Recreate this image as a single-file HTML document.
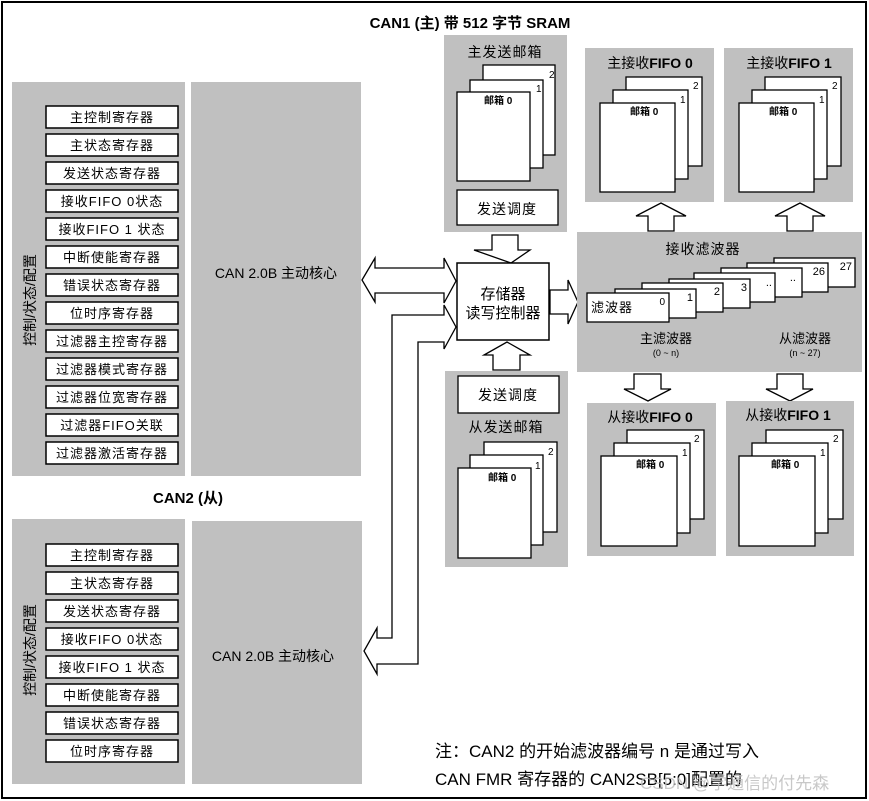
<!DOCTYPE html>
<html><head><meta charset="utf-8"><style>
html,body{margin:0;padding:0;background:#fff}
svg{display:block}
text{font-family:"Liberation Sans","Noto Sans CJK SC",sans-serif;fill:#000}
</style></head><body>
<svg width="869" height="801" viewBox="0 0 869 801" xmlns="http://www.w3.org/2000/svg">
<rect x="2" y="2" width="864" height="796" fill="#fff" stroke="#000" stroke-width="2"/>
<text x="470" y="28" font-size="15" font-weight="bold" text-anchor="middle">CAN1 (主) 带 512 字节 SRAM</text>

<!-- CAN1 left -->
<rect x="12" y="82" width="173" height="394" fill="#c0c0c0"/>
<rect x="191" y="82" width="170" height="394" fill="#c0c0c0"/>
<text transform="translate(35,300) rotate(-90)" font-size="14" text-anchor="middle">控制/状态/配置</text>
<text x="276" y="278" font-size="14" text-anchor="middle">CAN 2.0B  主动核心</text>
<g font-size="13" text-anchor="middle" letter-spacing="1">
<g fill="#fff" stroke="#000" stroke-width="1.5">
<rect x="46" y="106" width="132" height="22"/><rect x="46" y="134" width="132" height="22"/><rect x="46" y="162" width="132" height="22"/><rect x="46" y="190" width="132" height="22"/><rect x="46" y="218" width="132" height="22"/><rect x="46" y="246" width="132" height="22"/><rect x="46" y="274" width="132" height="22"/><rect x="46" y="302" width="132" height="22"/><rect x="46" y="330" width="132" height="22"/><rect x="46" y="358" width="132" height="22"/><rect x="46" y="386" width="132" height="22"/><rect x="46" y="414" width="132" height="22"/><rect x="46" y="442" width="132" height="22"/>
</g>
<text x="112" y="122">主控制寄存器</text><text x="112" y="150">主状态寄存器</text><text x="112" y="178">发送状态寄存器</text><text x="112" y="206">接收FIFO 0状态</text><text x="112" y="234">接收FIFO 1 状态</text><text x="112" y="262">中断使能寄存器</text><text x="112" y="290">错误状态寄存器</text><text x="112" y="318">位时序寄存器</text><text x="112" y="346">过滤器主控寄存器</text><text x="112" y="374">过滤器模式寄存器</text><text x="112" y="402">过滤器位宽寄存器</text><text x="112" y="430">过滤器FIFO关联</text><text x="112" y="458">过滤器激活寄存器</text>
</g>

<text x="188" y="503" font-size="15" font-weight="bold" text-anchor="middle">CAN2 (从)</text>
<rect x="12" y="519" width="173" height="265" fill="#c0c0c0"/>
<rect x="192" y="521" width="170" height="263" fill="#c0c0c0"/>
<text transform="translate(35,650) rotate(-90)" font-size="14" text-anchor="middle">控制/状态/配置</text>
<text x="273" y="661" font-size="14" text-anchor="middle">CAN 2.0B  主动核心</text>
<g font-size="13" text-anchor="middle" letter-spacing="1">
<g fill="#fff" stroke="#000" stroke-width="1.5">
<rect x="46" y="544" width="132" height="22"/><rect x="46" y="572" width="132" height="22"/><rect x="46" y="600" width="132" height="22"/><rect x="46" y="628" width="132" height="22"/><rect x="46" y="656" width="132" height="22"/><rect x="46" y="684" width="132" height="22"/><rect x="46" y="712" width="132" height="22"/><rect x="46" y="740" width="132" height="22"/>
</g>
<text x="112" y="560">主控制寄存器</text><text x="112" y="588">主状态寄存器</text><text x="112" y="616">发送状态寄存器</text><text x="112" y="644">接收FIFO 0状态</text><text x="112" y="672">接收FIFO 1 状态</text><text x="112" y="700">中断使能寄存器</text><text x="112" y="728">错误状态寄存器</text><text x="112" y="756">位时序寄存器</text>
</g>

<!-- connectors -->
<g fill="#fff" stroke="#000" stroke-width="1.3">
<path d="M362,280 L375,258 L375,268 L444,268 L444,258 L456,281 L444,303 L444,293 L375,293 L375,302 Z"/>
<path d="M392,638 L392,315 L444,315 L444,305 L456,327 L444,349 L444,342 L418,342 L418,664 L377,664 L377,674 L364,651 L377,628 L377,638 Z"/>
<path d="M492,235 L518,235 L518,250 L530,250 L511,263 L474,250 L492,250 Z"/>
<path d="M493,370 L520,370 L520,355 L530,355 L507,342 L484,355 L493,355 Z"/>
<path d="M550,290 L568,290 L568,280 L578,302 L568,324 L568,314 L550,314 Z"/>
<path d="M648,231 L674,231 L674,216 L686,216 L661,203 L636,216 L648,216 Z"/>
<path d="M787,231 L813,231 L813,216 L825,216 L800,203 L775,216 L787,216 Z"/>
<path d="M634,374 L661,374 L661,389 L671,389 L648,401 L624,389 L634,389 Z"/>
<path d="M777,374 L803,374 L803,389 L813,389 L790,401 L766,389 L777,389 Z"/>
</g>

<!-- memory controller -->
<rect x="457" y="263" width="92" height="77" fill="#fff" stroke="#000" stroke-width="1.5"/>
<text x="503" y="299" font-size="15" text-anchor="middle">存储器</text>
<text x="503" y="318" font-size="15" text-anchor="middle">读写控制器</text>

<!-- main TX mailbox -->
<rect x="444" y="35" width="123" height="197" fill="#c0c0c0"/>
<text x="505" y="57" font-size="14" text-anchor="middle" letter-spacing="1">主发送邮箱</text>
<g fill="#fff" stroke="#000" stroke-width="1.3">
<rect x="483" y="65" width="72" height="90"/><rect x="470" y="80" width="73" height="88"/><rect x="457" y="92" width="73" height="89"/>
</g>
<g font-size="10"><text x="549" y="78">2</text><text x="536" y="92">1</text><text x="484" y="104" font-weight="bold">邮箱 0</text></g>
<rect x="457" y="190" width="101" height="35" fill="#fff" stroke="#000" stroke-width="1.3"/>
<text x="507" y="214" font-size="14" text-anchor="middle" letter-spacing="1">发送调度</text>

<!-- main RX FIFOs -->
<rect x="585" y="48" width="129" height="154" fill="#c0c0c0"/>
<text x="650" y="68" font-size="14" text-anchor="middle">主接收<tspan font-weight="bold">FIFO 0</tspan></text>
<g fill="#fff" stroke="#000" stroke-width="1.3"><rect x="626" y="77" width="76" height="89"/><rect x="613" y="90" width="75" height="89"/><rect x="600" y="103" width="75" height="89"/></g>
<g font-size="10"><text x="693" y="89">2</text><text x="680" y="103">1</text><text x="630" y="115" font-weight="bold">邮箱 0</text></g>
<rect x="724" y="48" width="129" height="154" fill="#c0c0c0"/>
<text x="789" y="68" font-size="14" text-anchor="middle">主接收<tspan font-weight="bold">FIFO 1</tspan></text>
<g fill="#fff" stroke="#000" stroke-width="1.3"><rect x="765" y="77" width="76" height="89"/><rect x="752" y="90" width="75" height="89"/><rect x="739" y="103" width="75" height="89"/></g>
<g font-size="10"><text x="832" y="89">2</text><text x="819" y="103">1</text><text x="769" y="115" font-weight="bold">邮箱 0</text></g>

<!-- filters -->
<rect x="577" y="232" width="285" height="140" fill="#c0c0c0"/>
<text x="703" y="254" font-size="14" text-anchor="middle" letter-spacing="1">接收滤波器</text>
<g fill="#fff" stroke="#000" stroke-width="1.3">
<rect x="774" y="258" width="81" height="29"/><rect x="747" y="263" width="81" height="29"/><rect x="721" y="268" width="81" height="29"/><rect x="694" y="273" width="81" height="29"/><rect x="669" y="279" width="81" height="29"/><rect x="642" y="283" width="81" height="29"/><rect x="615" y="289" width="81" height="29"/><rect x="587" y="293" width="82" height="29"/>
</g>
<g font-size="11" text-anchor="end">
<text x="852" y="270">27</text><text x="825" y="275">26</text><text x="796" y="281">..</text><text x="772" y="286">..</text><text x="747" y="291">3</text><text x="720" y="295">2</text><text x="693" y="301">1</text><text x="665" y="305" font-size="10">0</text>
</g>
<text x="591" y="312" font-size="13" letter-spacing="1">滤波器</text>
<text x="666" y="343" font-size="13" text-anchor="middle">主滤波器</text>
<text x="666" y="356" font-size="9" text-anchor="middle">(0 ~ n)</text>
<text x="805" y="343" font-size="13" text-anchor="middle">从滤波器</text>
<text x="805" y="356" font-size="9" text-anchor="middle">(n ~ 27)</text>

<!-- slave TX -->
<rect x="445" y="371" width="123" height="196" fill="#c0c0c0"/>
<rect x="458" y="376" width="101" height="37" fill="#fff" stroke="#000" stroke-width="1.3"/>
<text x="508" y="400" font-size="14" text-anchor="middle" letter-spacing="1">发送调度</text>
<text x="506" y="432" font-size="14" text-anchor="middle" letter-spacing="1">从发送邮箱</text>
<g fill="#fff" stroke="#000" stroke-width="1.3"><rect x="484" y="442" width="73" height="90"/><rect x="470" y="455" width="73" height="90"/><rect x="458" y="468" width="73" height="90"/></g>
<g font-size="10"><text x="548" y="455">2</text><text x="535" y="469">1</text><text x="488" y="481" font-weight="bold">邮箱 0</text></g>

<!-- slave RX -->
<rect x="587" y="403" width="129" height="153" fill="#c0c0c0"/>
<text x="650" y="422" font-size="14" text-anchor="middle">从接收<tspan font-weight="bold">FIFO 0</tspan></text>
<g fill="#fff" stroke="#000" stroke-width="1.3"><rect x="627" y="430" width="77" height="89"/><rect x="614" y="443" width="76" height="90"/><rect x="601" y="456" width="76" height="90"/></g>
<g font-size="10"><text x="694" y="442">2</text><text x="682" y="456">1</text><text x="636" y="468" font-weight="bold">邮箱 0</text></g>
<rect x="726" y="401" width="128" height="155" fill="#c0c0c0"/>
<text x="788" y="420" font-size="14" text-anchor="middle">从接收<tspan font-weight="bold">FIFO 1</tspan></text>
<g fill="#fff" stroke="#000" stroke-width="1.3"><rect x="766" y="430" width="77" height="89"/><rect x="752" y="443" width="76" height="90"/><rect x="739" y="456" width="76" height="90"/></g>
<g font-size="10"><text x="833" y="442">2</text><text x="820" y="456">1</text><text x="771" y="468" font-weight="bold">邮箱 0</text></g>

<!-- note -->
<text x="435" y="757" font-size="17">注：CAN2 的开始滤波器编号 n 是通过写入</text>
<text x="435" y="785" font-size="17">CAN  FMR 寄存器的 CAN2SB[5:0]配置的</text>
<text x="640" y="789" font-size="17" fill="#bbb" style="fill:#bbb;opacity:0.8">CSDN @学通信的付先森</text>
</svg>
</body></html>
